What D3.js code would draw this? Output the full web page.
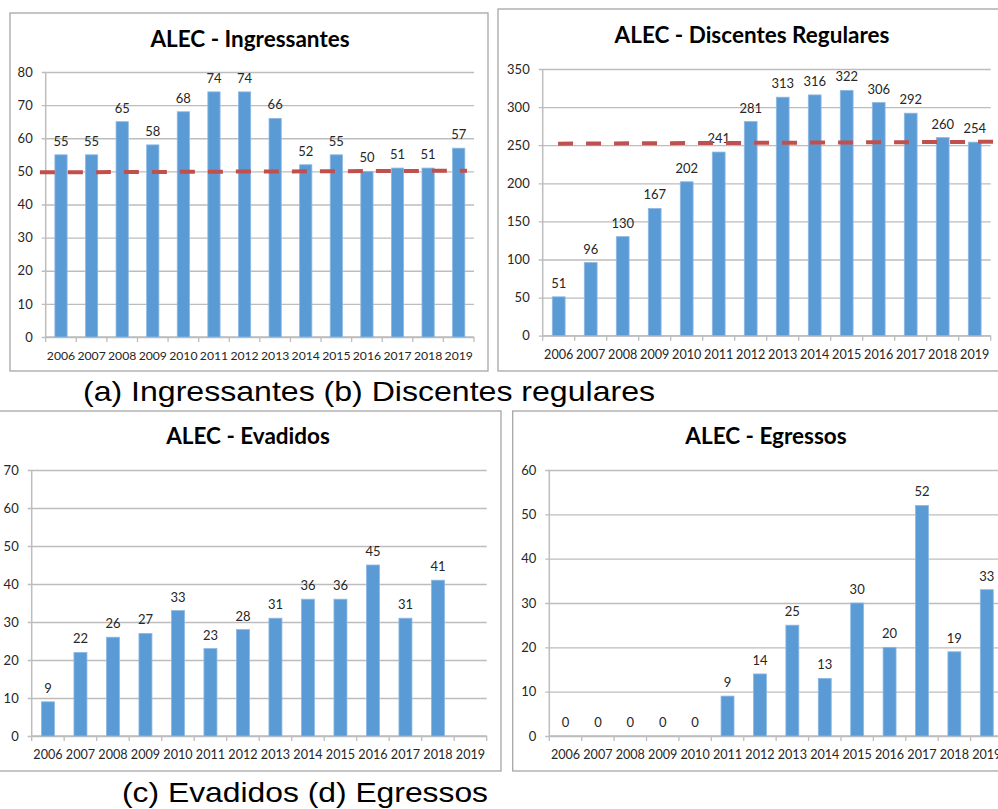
<!DOCTYPE html>
<html>
<head>
<meta charset="utf-8">
<script src="https://cdn.jsdelivr.net/npm/d3@7"></script>
<style>
  html, body { margin: 0; padding: 0; background: #fff; }
  svg { display: block; }
</style>
</head>
<body>
<svg id="chart" width="998" height="809"></svg>
<script>
// Categories and series
const anos = ["2006","2007","2008","2009","2010","2011","2012","2013","2014","2015","2016","2017","2018","2019"];
const ingressantes = [55, 55, 65, 58, 68, 74, 74, 66, 52, 55, 50, 51, 51, 57];
const discentesRegulares = [51, 96, 130, 167, 202, 241, 281, 313, 316, 322, 306, 292, 260, 254];
const evadidos = [9, 22, 26, 27, 33, 23, 28, 31, 36, 36, 45, 31, 41, null];
const egressos = [0, 0, 0, 0, 0, 9, 14, 25, 13, 30, 20, 52, 19, 33];

// Reference (average) lines: value at start and end
const mediaIngressantes = [49.7, 50.2];
const mediaDiscentes = [252, 254.5];

// Y tick values per chart
const ticksIngressantes = [0, 10, 20, 30, 40, 50, 60, 70, 80];
const ticksDiscentes = [0, 50, 100, 150, 200, 250, 300, 350];
const ticksEvadidos = [0, 10, 20, 30, 40, 50, 60, 70];
const ticksEgressos = [0, 10, 20, 30, 40, 50, 60];

// Titles and captions
const titulos = ["ALEC - Ingressantes", "ALEC - Discentes Regulares", "ALEC - Evadidos", "ALEC - Egressos"];
const legendas = ["(a) Ingressantes (b) Discentes regulares", "(c) Evadidos (d) Egressos"];

const svg = d3.select("#chart");
const FONT = "Lato, 'Open Sans', sans-serif";
const BAR = "#5B9BD5";
const GRID = "#BDBDBD";

function painel(cfg) {
  const g = svg.append("g");

  // frame
  g.append("rect")
    .attr("x", cfg.box[0]).attr("y", cfg.box[1])
    .attr("width", cfg.box[2]).attr("height", cfg.box[3])
    .attr("fill", "#fff").attr("stroke", "#A6A6A6").attr("stroke-width", 1.3);

  const x = d3.scaleBand().domain(anos)
    .range([cfg.left, cfg.right]).paddingInner(0.6).paddingOuter(0.3);
  const xPos = d3.scaleLinear().domain([0, anos.length]).range([cfg.left, cfg.right]);
  const y = d3.scaleLinear().domain([0, d3.max(cfg.ticks)]).range([cfg.bottom, cfg.top]);

  // gridlines and y axis labels
  const yAxis = d3.axisLeft(y).tickValues(cfg.ticks)
    .tickSize(-(cfg.right - cfg.left) - 4).tickSizeOuter(0).tickPadding(9);
  const ya = g.append("g").attr("transform", `translate(${cfg.left - 4},0)`).call(yAxis);
  ya.select(".domain").remove();
  ya.selectAll(".tick line").attr("stroke", GRID).attr("stroke-width", 1.3);
  ya.selectAll(".tick text").attr("font-family", FONT).attr("font-size", 13).attr("fill", "#262626");

  // vertical axis line
  g.append("line")
    .attr("x1", cfg.left).attr("x2", cfg.left)
    .attr("y1", cfg.top).attr("y2", cfg.bottom)
    .attr("stroke", GRID).attr("stroke-width", 1.5);

  // x axis: category boundary ticks
  const xa = g.append("g");
  xa.append("line")
    .attr("x1", cfg.left).attr("x2", cfg.right)
    .attr("y1", cfg.bottom).attr("y2", cfg.bottom)
    .attr("stroke", GRID).attr("stroke-width", 1.5);
  xa.selectAll("line.b").data(d3.range(anos.length + 1)).join("line")
    .attr("class", "b")
    .attr("x1", d => xPos(d)).attr("x2", d => xPos(d))
    .attr("y1", cfg.bottom).attr("y2", cfg.bottom + 5)
    .attr("stroke", GRID).attr("stroke-width", 1.3);
  xa.selectAll("text").data(anos).join("text")
    .attr("x", d => x(d) + x.bandwidth() / 2)
    .attr("y", cfg.bottom + 23)
    .attr("text-anchor", "middle")
    .attr("font-family", FONT).attr("font-size", cfg.xFont).attr("fill", "#262626")
    .text(d => d);

  // bars
  const dados = anos.map((a, i) => ({ ano: a, v: cfg.values[i] })).filter(d => d.v !== null);
  g.selectAll("rect.bar").data(dados).join("rect")
    .attr("class", "bar")
    .attr("x", d => x(d.ano)).attr("width", x.bandwidth())
    .attr("y", d => y(d.v)).attr("height", d => cfg.bottom - y(d.v))
    .attr("fill", BAR).attr("stroke", "#8DB9E3").attr("stroke-width", 0.8);

  // value labels
  g.selectAll("text.val").data(dados).join("text")
    .attr("class", "val")
    .attr("x", d => x(d.ano) + x.bandwidth() / 2)
    .attr("y", d => y(d.v) - 9)
    .attr("text-anchor", "middle")
    .attr("font-family", FONT).attr("font-size", 13).attr("fill", "#262626")
    .text(d => d.v);

  // average line
  if (cfg.media) {
    g.append("line")
      .attr("x1", xPos(cfg.mediaSpan[0])).attr("x2", xPos(cfg.mediaSpan[1]))
      .attr("y1", y(cfg.media[0])).attr("y2", y(cfg.media[1]))
      .attr("stroke", "#C0504D").attr("stroke-width", 4)
      .attr("stroke-dasharray", "15 13");
  }

  // title
  g.append("text")
    .attr("x", cfg.titleX).attr("y", cfg.titleY)
    .attr("text-anchor", "middle")
    .attr("font-family", FONT).attr("font-weight", "bold").attr("font-size", 22.5)
    .attr("fill", "#000")
    .text(cfg.title);
}

painel({
  box: [10, 13, 478, 358], left: 45.7, right: 474, top: 72, bottom: 337,
  ticks: ticksIngressantes, values: ingressantes, xFont: 12.2,
  media: mediaIngressantes, mediaSpan: [-0.19, 13.77],
  title: titulos[0], titleX: 250, titleY: 47
});
painel({
  box: [498, 9, 520, 362], left: 542.7, right: 990.7, top: 69, bottom: 335.7,
  ticks: ticksDiscentes, values: discentesRegulares, xFont: 12.6,
  media: mediaDiscentes, mediaSpan: [0.48, 14.1],
  title: titulos[1], titleX: 752, titleY: 43
});
painel({
  box: [-10, 411, 511, 360], left: 31.7, right: 486.7, top: 470, bottom: 736,
  ticks: ticksEvadidos, values: evadidos, xFont: 12.6,
  title: titulos[2], titleX: 248, titleY: 444
});
painel({
  box: [512.7, 411, 520, 360], left: 549.3, right: 1003, top: 470, bottom: 736,
  ticks: ticksEgressos, values: egressos, xFont: 12.6,
  title: titulos[3], titleX: 766, titleY: 444
});

// captions
svg.append("text").attr("x", 83).attr("y", 401)
  .attr("font-family", "'Liberation Sans', Arial, sans-serif").attr("font-size", 28)
  .attr("textLength", 572).attr("lengthAdjust", "spacingAndGlyphs")
  .attr("fill", "#000").text(legendas[0]);
svg.append("text").attr("x", 122).attr("y", 802)
  .attr("font-family", "'Liberation Sans', Arial, sans-serif").attr("font-size", 28)
  .attr("textLength", 366).attr("lengthAdjust", "spacingAndGlyphs")
  .attr("fill", "#000").text(legendas[1]);
</script>
</body>
</html>
